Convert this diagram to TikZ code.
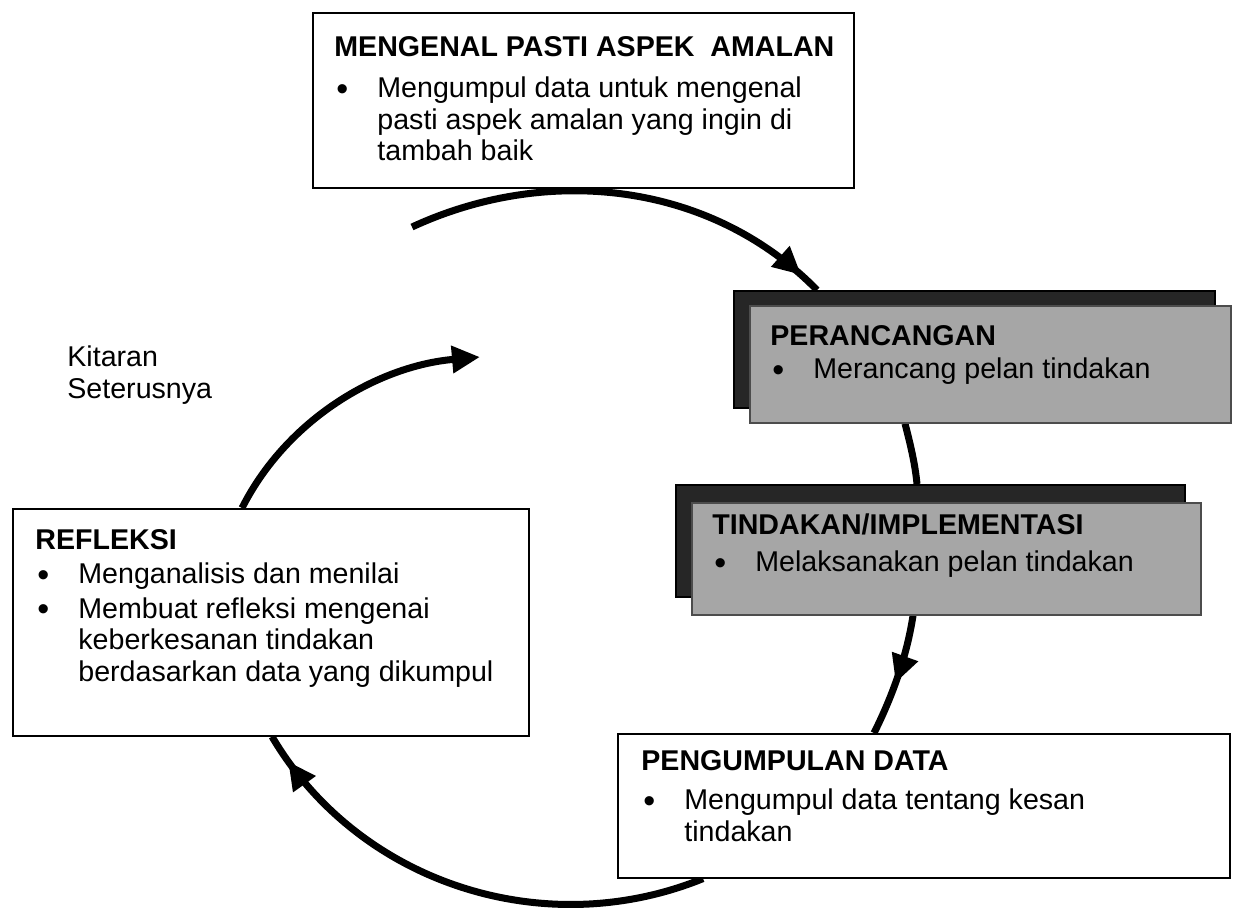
\documentclass[tikz,border=0pt]{standalone}
\usepackage{fontspec}
\setmainfont{Liberation Sans}
\usetikzlibrary{arrows.meta,calc,backgrounds,decorations.markings}
\newcommand{\butir}{\makebox[21.5pt][l]{\hspace{1pt}\raisebox{-1.2pt}{\fontsize{17}{17}\selectfont\textbullet}}}
\newcommand{\sambung}{\hspace*{21.5pt}}
\begin{document}
\begin{tikzpicture}[
  x=0.5pt, y=-0.5pt,
  kotak/.style={draw, line width=0.8pt, fill=white, anchor=north west, inner sep=0pt},
  bayang/.style={kotak, fill=black!85},
  kelabu/.style={kotak, draw=black!70, fill=black!35},
  teks/.style={anchor=base west, inner sep=0pt, font=\fontsize{14.3}{15.8}\selectfont},
  kitar/.style={line width=3.5pt},
  hujung/.style={-{Triangle[length=14pt,width=13pt]}},
  tanda/.style={postaction={decorate}, decoration={markings,
    mark=at position #1 with {\arrow{Triangle[length=14pt,width=13pt]}}}},
]
  \useasboundingbox (0,0) rectangle (1241,911);

  \node[kotak, minimum width=270.5pt, minimum height=87.5pt] (atas) at (312,12) {};
  \node[bayang, minimum width=240.5pt, minimum height=58.5pt] (rancangB) at (733,290) {};
  \node[kelabu, minimum width=240.5pt, minimum height=58.5pt] (rancangD) at (749,305) {};
  \node[bayang, minimum width=254.5pt, minimum height=56pt] (tindakB) at (675,484) {};
  \node[kelabu, minimum width=254.5pt, minimum height=56pt] (tindakD) at (691,502) {};
  \node[kotak, minimum width=306pt, minimum height=72pt] (kumpul) at (617,733) {};
  \node[kotak, minimum width=258pt, minimum height=113.5pt] (refleksi) at (12,508) {};

  \node[teks] (tatas) at (334,56) {\begin{tabular}[t]{@{}l@{}}
    \textbf{MENGENAL PASTI ASPEK\ \ AMALAN}\\[5pt]
    \butir Mengumpul data untuk mengenal\\
    \sambung pasti aspek amalan yang ingin di\\
    \sambung tambah baik
  \end{tabular}};
  \node[teks] (trancang) at (770,345) {\begin{tabular}[t]{@{}l@{}}
    \textbf{PERANCANGAN}\\[1pt]
    \butir Merancang pelan tindakan
  \end{tabular}};
  \node[teks] (ttindak) at (712,534) {\begin{tabular}[t]{@{}l@{}}
    \textbf{TINDAKAN/IMPLEMENTASI}\\[3pt]
    \butir Melaksanakan pelan tindakan
  \end{tabular}};
  \node[teks] (tkumpul) at (641,770) {\begin{tabular}[t]{@{}l@{}}
    \textbf{PENGUMPULAN DATA}\\[4pt]
    \butir Mengumpul data tentang kesan\\
    \sambung tindakan
  \end{tabular}};
  \node[teks] (trefleksi) at (35,549) {\begin{tabular}[t]{@{}l@{}}
    \textbf{REFLEKSI}\\[1.5pt]
    \butir Menganalisis dan menilai\\[1.5pt]
    \butir Membuat refleksi mengenai\\
    \sambung keberkesanan tindakan\\
    \sambung berdasarkan data yang dikumpul
  \end{tabular}};
  \node[teks] (kitaran) at (67,366) {\begin{tabular}[t]{@{}l@{}}
    Kitaran\\[0.5pt]
    Seterusnya
  \end{tabular}};

  \begin{scope}[on background layer]
    \coordinate (mula) at (412,227);
    \coordinate (akhir) at (480,357);
    \draw[kitar, tanda=0.95] (mula) .. controls (548,164) and (711,182) .. ($(rancangB.north west)+(84,0)$);
    \draw[kitar] ($(rancangD.south west)+(156,0)$) .. controls (910,443) and (915,463) .. ($(tindakB.north west)+(242,0)$);
    \draw[kitar, tanda=0.56] ($(tindakD.south west)+(222,0)$) .. controls (907,655) and (893,695) .. ($(kumpul.north west)+(257,0)$);
    \draw[kitar, tanda=0.94] ($(kumpul.south west)+(86,0)$) .. controls (545,943) and (359,884) .. ($(refleksi.south west)+(260,0)$);
    \draw[kitar, hujung] ($(refleksi.north west)+(230,0)$) .. controls (287,419) and (378,366) .. (akhir);
  \end{scope}
\end{tikzpicture}
\end{document}
